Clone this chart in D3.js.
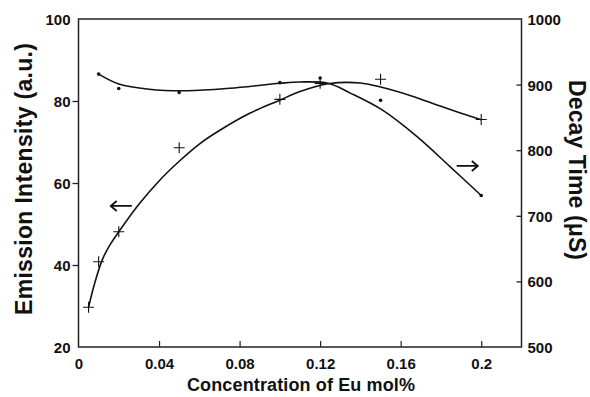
<!DOCTYPE html>
<html><head><meta charset="utf-8">
<script src="https://cdn.jsdelivr.net/npm/d3@7"></script>
<style>
body{margin:0;background:#fff}
svg{display:block}
text{font-family:Arial,"Liberation Sans",Helvetica,sans-serif;font-weight:bold;fill:#111}
</style>
</head><body>
<svg id="chart" width="590" height="397"></svg>
<script>
// ---- data ----
const emissionConc = [0.005, 0.01, 0.02, 0.05, 0.1, 0.12, 0.15, 0.2];
const emissionValues = [29.7, 40.8, 48.1, 68.6, 80.4, 84.3, 85.3, 75.5];
const decayConc = [0.01, 0.02, 0.05, 0.1, 0.12, 0.15, 0.2];
const decayValues = [916, 894, 888, 903, 910, 876, 731];
// smooth fitted curves as drawn in the reference
const emissionFitConc = [0.005, 0.008, 0.012, 0.016, 0.02, 0.03, 0.04, 0.05, 0.06, 0.07, 0.085, 0.1, 0.11, 0.124, 0.14, 0.15, 0.165, 0.18, 0.2];
const emissionFitValues = [29.7, 35.5, 41.5, 45.2, 48.1, 54.8, 60.5, 65.3, 69.5, 72.8, 77, 80.2, 82.3, 84.2, 84.4, 83.4, 81.3, 78.7, 75.4];
const decayFitConc = [0.01, 0.02, 0.035, 0.054, 0.075, 0.1, 0.11, 0.124, 0.135, 0.151, 0.168, 0.1845, 0.2];
const decayFitValues = [916, 901, 893, 890.7, 894.4, 902, 904, 902, 887, 861, 821, 775, 731];
// ticks
const xTicks = [0, 0.04, 0.08, 0.12, 0.16, 0.2];
const xTickLabels = ["0", "0.04", "0.08", "0.12", "0.16", "0.2"];
const leftTicks = [20, 40, 60, 80, 100];
const rightTicks = [500, 600, 700, 800, 900, 1000];
// arrow annotations: [conc start, conc end, value]
const leftArrow = [0.016, 0.0265, 54.4];
const rightArrow = [0.1878, 0.1983, 776];

// ---- layout ----
const L = 78.5, R = 521.5, T = 19, B = 347;
const svg = d3.select("#chart");
const x = d3.scaleLinear().domain([0, 0.22]).range([L, R]);
const yL = d3.scaleLinear().domain([20, 100]).range([B, T]);
const yR = d3.scaleLinear().domain([500, 1000]).range([B, T]);
const ink = "#111";

// frame
svg.append("rect").attr("x", L).attr("y", T).attr("width", R - L).attr("height", B - T)
  .attr("fill", "none").attr("stroke", "#222").attr("stroke-width", 1.5);

// left axis
const gL = svg.append("g").attr("transform", `translate(${L},0)`)
  .call(d3.axisLeft(yL).tickValues(leftTicks).tickSize(6).tickPadding(2).tickFormat(d3.format("d")));
gL.select(".domain").remove();
gL.selectAll(".tick line").attr("stroke", "#222").attr("stroke-width", 1.3)
  .attr("opacity", d => (d === 20 || d === 100) ? 0 : 1);
gL.selectAll(".tick text").attr("font-size", 15).attr("fill", ink).attr("dy", "0.36em")
  .attr("font-family", "Arial, 'Liberation Sans', sans-serif").attr("font-weight", "bold");

// right axis
const gR = svg.append("g").attr("transform", `translate(${R},0)`)
  .call(d3.axisRight(yR).tickValues(rightTicks).tickSize(-5).tickPadding(6).tickFormat(d3.format("d")));
gR.select(".domain").remove();
gR.selectAll(".tick line").attr("stroke", "#222").attr("stroke-width", 1.3)
  .attr("opacity", d => (d === 500 || d === 1000) ? 0 : 1);
gR.selectAll(".tick text").attr("font-size", 15).attr("fill", ink).attr("dy", "0.36em").attr("x", 6)
  .attr("font-family", "Arial, 'Liberation Sans', sans-serif").attr("font-weight", "bold");

// bottom axis
const gB = svg.append("g").attr("transform", `translate(0,${B})`)
  .call(d3.axisBottom(x).tickValues(xTicks).tickSize(-6).tickFormat((d, i) => xTickLabels[i]));
gB.select(".domain").remove();
gB.selectAll(".tick line").attr("stroke", "#222").attr("stroke-width", 1.2)
  .attr("opacity", d => d === 0 ? 0 : 1);
gB.selectAll(".tick text").attr("font-size", 15).attr("fill", ink).attr("y", 22).attr("dy", 0)
  .attr("font-family", "Arial, 'Liberation Sans', sans-serif").attr("font-weight", "bold");

// axis titles
svg.append("text").attr("transform", `translate(32,${(43 + 315) / 2}) rotate(-90)`)
  .attr("text-anchor", "middle").attr("font-size", 23)
  .attr("textLength", 272).attr("lengthAdjust", "spacing")
  .text("Emission Intensity (a.u.)");
svg.append("text").attr("transform", `translate(569,170) rotate(90)`)
  .attr("text-anchor", "middle").attr("font-size", 23)
  .attr("textLength", 180).attr("lengthAdjust", "spacing")
  .text("Decay Time (μS)");
svg.append("text").attr("x", 301).attr("y", 391)
  .attr("text-anchor", "middle").attr("font-size", 18)
  .attr("textLength", 228).attr("lengthAdjust", "spacing")
  .text("Concentration of Eu mol%");

// fitted curves
const emLine = d3.line().x((d, i) => x(emissionFitConc[i])).y(d => yL(d)).curve(d3.curveCatmullRom.alpha(0.5));
const dcLine = d3.line().x((d, i) => x(decayFitConc[i])).y(d => yR(d)).curve(d3.curveCatmullRom.alpha(0.5));
svg.append("path").attr("d", emLine(emissionFitValues)).attr("fill", "none").attr("stroke", ink).attr("stroke-width", 1.6);
svg.append("path").attr("d", dcLine(decayFitValues)).attr("fill", "none").attr("stroke", ink).attr("stroke-width", 1.6);

// plus markers (emission)
const s = 5.5;
svg.append("g").selectAll("path").data(emissionValues).join("path")
  .attr("d", (d, i) => {
    const cx = x(emissionConc[i]), cy = yL(d);
    return `M${cx - s},${cy}H${cx + s}M${cx},${cy - s}V${cy + s}`;
  })
  .attr("stroke", ink).attr("stroke-width", 1.1).attr("fill", "none");

// dot markers (decay)
svg.append("g").selectAll("circle").data(decayValues).join("circle")
  .attr("cx", (d, i) => x(decayConc[i])).attr("cy", d => yR(d))
  .attr("r", 1.8).attr("fill", ink);

// arrows
function arrow(x1, x2, y, headLeft) {
  const hx = headLeft ? x1 : x2, dir = headLeft ? 1 : -1;
  svg.append("path")
    .attr("d", `M${x1},${y}H${x2}M${hx + dir * 6},${y - 5}L${hx},${y}L${hx + dir * 6},${y + 5}`)
    .attr("stroke", ink).attr("stroke-width", 1.8).attr("fill", "none");
}
arrow(x(leftArrow[0]), x(leftArrow[1]), yL(leftArrow[2]), true);
arrow(x(rightArrow[0]), x(rightArrow[1]), yR(rightArrow[2]), false);
</script>
</body></html>
